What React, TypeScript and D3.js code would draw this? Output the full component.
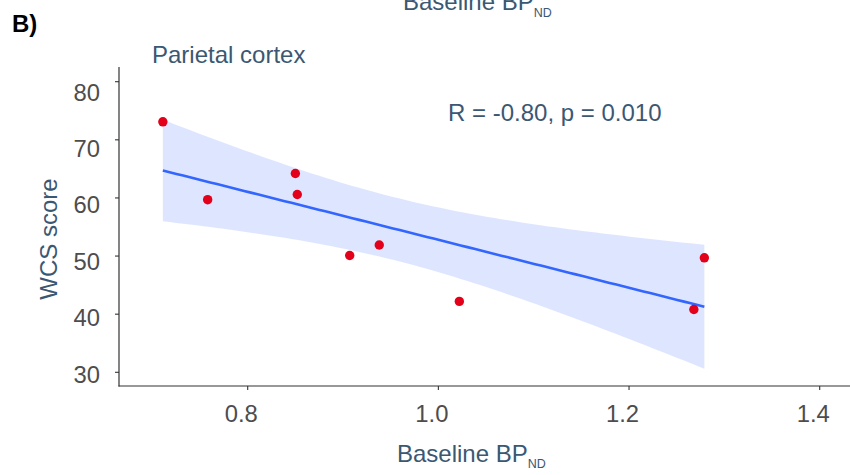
import React from "react";
import * as d3 from "d3";

// Data
const baselineBP = [0.711, 0.758, 0.85, 0.852, 0.907, 0.938, 1.022, 1.279, 1.268];
const wcsScore = [73.1, 59.7, 64.2, 60.6, 50.1, 51.9, 42.2, 49.7, 40.8];
const xTicks = [0.8, 1.0, 1.2, 1.4];
const yTicks = [30, 40, 50, 60, 70, 80];
const statLabel = "R = -0.80, p = 0.010";
const regionLabel = "Parietal cortex";
const panelLabel = "B)";

const W = 850;
const H = 475;
const TXT = "#3b5873";
const TICKC = "#4d4d4d";
const FONT = "'Liberation Sans', Arial, Helvetica, sans-serif";

export default function App() {
  const x = d3.scaleLinear().domain([0.8, 1.4]).range([247.7, 819.7]);
  const y = d3.scaleLinear().domain([30, 80]).range([372.3, 81.7]);
  // tick labels in the reference sit on a slightly different grid than the tick marks
  const yLab = d3.scaleLinear().domain([30, 80]).range([374, 92]);

  const n = baselineBP.length;
  const mx = d3.mean(baselineBP)!;
  const my = d3.mean(wcsScore)!;
  let sxx = 0, sxy = 0;
  for (let i = 0; i < n; i++) {
    sxx += (baselineBP[i] - mx) ** 2;
    sxy += (baselineBP[i] - mx) * (wcsScore[i] - my);
  }
  const slope = sxy / sxx;
  const icpt = my - slope * mx;
  let ssr = 0;
  for (let i = 0; i < n; i++) ssr += (wcsScore[i] - (icpt + slope * baselineBP[i])) ** 2;
  const s = Math.sqrt(ssr / (n - 2));
  const tq = 2.3646; // t(0.975, df=7)
  const [x0, x1] = d3.extent(baselineBP) as [number, number];
  const grid = d3.range(0, 81).map((k) => x0 + ((x1 - x0) * k) / 80);
  const band = grid.map((xv) => {
    const fit = icpt + slope * xv;
    const se = s * Math.sqrt(1 / n + (xv - mx) ** 2 / sxx);
    return { xv, fit, lo: fit - tq * se, hi: fit + tq * se };
  });
  const area = d3
    .area<any>()
    .x((d) => x(d.xv))
    .y0((d) => y(d.lo))
    .y1((d) => y(d.hi));
  const line = d3
    .line<any>()
    .x((d) => x(d.xv))
    .y((d) => y(d.fit));

  const axisX = 119;
  const axisY = 386;

  return (
    <svg
      width={W}
      height={H}
      style={{ position: "absolute", left: 0, top: 0, background: "#fff" }}
      fontFamily={FONT}
    >
      <rect x={0} y={0} width={W} height={H} fill="#fff" />
      {/* cropped title from panel above */}
      <text x={403} y={10} fontSize={24} fill={TXT}>
        Baseline BP
        <tspan fontSize={12.5} dy={7}>ND</tspan>
      </text>
      <text x={12} y={32} fontSize={24} fontWeight="bold" fill="#000">
        {panelLabel}
      </text>
      <text x={152} y={63} fontSize={24} fill={TXT}>
        {regionLabel}
      </text>
      <text x={448} y={121} fontSize={24} fill={TXT}>
        {statLabel}
      </text>

      {/* band and fit */}
      <path d={area(band)!} fill="#3366ff" fillOpacity={0.16} />
      <path d={line(band)!} fill="none" stroke="#3366ff" strokeWidth={2.6} />

      {/* points */}
      {baselineBP.map((xv, i) => (
        <circle key={i} cx={x(xv)} cy={y(wcsScore[i])} r={4.7} fill="#e2001a" />
      ))}

      {/* axes */}
      <line x1={axisX} y1={67} x2={axisX} y2={axisY + 0.5} stroke="#333" strokeWidth={1.2} />
      <line x1={axisX - 0.5} y1={axisY} x2={W} y2={axisY} stroke="#333" strokeWidth={1.2} />
      {yTicks.map((t) => (
        <g key={t}>
          <line x1={axisX - 4} x2={axisX} y1={y(t)} y2={y(t)} stroke="#333" strokeWidth={1.1} />
          <text x={100} y={yLab(t) + 8.5} fontSize={23.8} fill={TICKC} textAnchor="end">
            {t}
          </text>
        </g>
      ))}
      {xTicks.map((t) => (
        <g key={t}>
          <line x1={x(t)} x2={x(t)} y1={axisY} y2={axisY + 4} stroke="#333" strokeWidth={1.1} />
          <text x={x(t) - 6.5} y={422} fontSize={23.8} fill={TICKC} textAnchor="middle">
            {d3.format(".1f")(t)}
          </text>
        </g>
      ))}

      {/* axis titles */}
      <text transform="translate(57,239) rotate(-90)" fontSize={24} fill={TXT} textAnchor="middle">
        WCS score
      </text>
      <text x={397} y={462} fontSize={24} fill={TXT}>
        Baseline BP
        <tspan fontSize={12.5} dy={6}>ND</tspan>
      </text>
    </svg>
  );
}
